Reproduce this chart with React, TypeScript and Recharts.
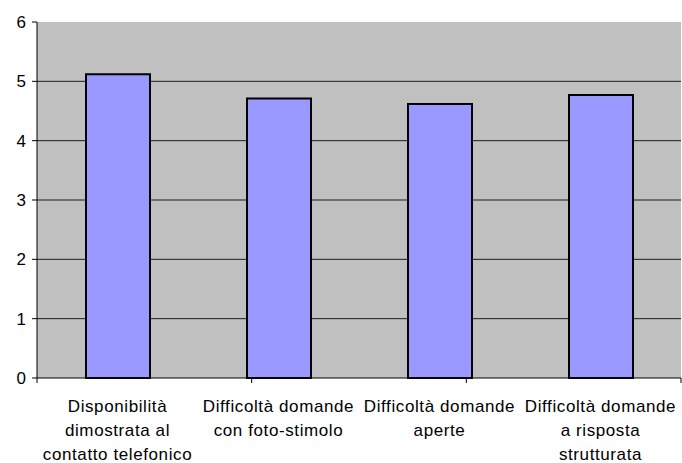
import React from 'react';
import { BarChart, Bar, XAxis, YAxis, CartesianGrid } from 'recharts';

const categories = [
  'Disponibilità dimostrata al contatto telefonico',
  'Difficoltà domande con foto-stimolo',
  'Difficoltà domande aperte',
  'Difficoltà domande a risposta strutturata',
];
const labelLines = [
  ['Disponibilità', 'dimostrata al', 'contatto telefonico'],
  ['Difficoltà domande', 'con foto-stimolo'],
  ['Difficoltà domande', 'aperte'],
  ['Difficoltà domande', 'a risposta', 'strutturata'],
];
const values = [5.12, 4.71, 4.62, 4.77];
const yTicks = [0, 1, 2, 3, 4, 5, 6];
const edgeTicks = [0, 1, 2, 3, 4];

const data = categories.map((name, i) => ({ name, value: values[i], idx: i }));

const font = '"Liberation Sans", Arial, sans-serif';

const CategoryTick = (props: any) => {
  const { x, y, index } = props;
  const lines = labelLines[index] || [];
  return (
    <text x={x} y={y} textAnchor="middle" fontFamily={font} fontSize={17} letterSpacing={0.6} fill="#000">
      {lines.map((l, i) => (
        <tspan key={i} x={x} dy={i === 0 ? 20 : 24}>
          {l}
        </tspan>
      ))}
    </text>
  );
};

export default function App() {
  return (
    <div style={{ position: 'absolute', left: 0, top: 0, background: '#fff' }}>
      <BarChart
        width={682}
        height={463}
        data={data}
        margin={{ top: 22, right: 1, bottom: 0, left: 0 }}
        barCategoryGap={0}
      >
        <CartesianGrid
          horizontal
          vertical={false}
          xAxisId={1}
          fill="#C0C0C0"
          fillOpacity={1}
          stroke="#000"
          strokeOpacity={0.85}
          horizontalValues={[1, 2, 3, 4, 5]}
        />
        <XAxis
          xAxisId={0}
          type="number"
          domain={[0, 4]}
          ticks={edgeTicks}
          tickFormatter={() => ''}
          axisLine={{ stroke: '#000' }}
          tickLine={{ stroke: '#000' }}
          tickSize={5}
          height={6}
          interval={0}
        />
        <XAxis
          xAxisId={1}
          dataKey="name"
          axisLine={false}
          tickLine={false}
          tick={<CategoryTick />}
          interval={0}
          height={79}
        />
        <YAxis
          domain={[0, 6]}
          ticks={yTicks}
          interval={0}
          width={37}
          axisLine={{ stroke: '#000' }}
          tickLine={{ stroke: '#000' }}
          tickSize={5}
          tick={{ fill: '#000', fontFamily: font, fontSize: 17, dx: -4 }}
        />
        <Bar
          xAxisId={1}
          dataKey="value"
          fill="#9999FF"
          stroke="#000"
          strokeWidth={2}
          barSize={64}
          isAnimationActive={false}
        />
      </BarChart>
    </div>
  );
}
